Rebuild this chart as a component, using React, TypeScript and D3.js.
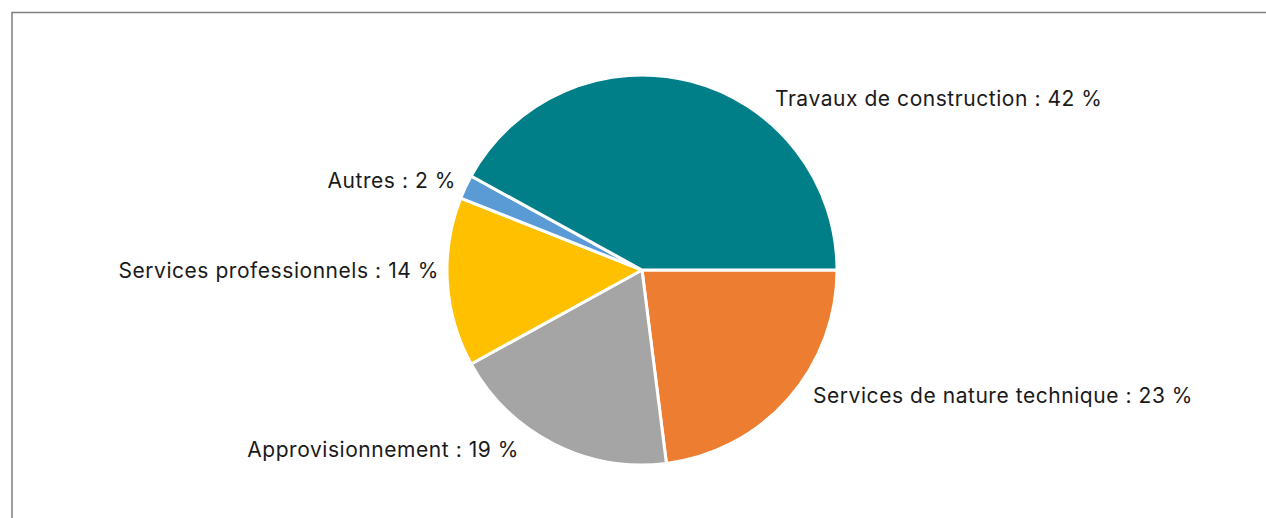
import React from "react";
import * as d3 from "d3";

const categories = [
  "Services de nature technique",
  "Approvisionnement",
  "Services professionnels",
  "Autres",
  "Travaux de construction",
];
const values = [23, 19, 14, 2, 42];
const colors = ["#ED7D31", "#A5A5A5", "#FFC000", "#5B9BD5", "#007F88"];
// label anchor positions (relative to canvas) and text-anchor
const labelPos: [number, number, string][] = [
  [813, 403, "start"],
  [519, 457, "end"],
  [439, 278, "end"],
  [456, 188, "end"],
  [775, 106, "start"],
];

export default function App() {
  const W = 1266, H = 518;
  const cx = 642, cy = 270, r = 195;
  const pie = d3
    .pie<number>()
    .sort(null)
    .startAngle(Math.PI / 2)
    .endAngle(Math.PI / 2 + 2 * Math.PI)(values);
  const arc = d3.arc<d3.PieArcDatum<number>>().innerRadius(0).outerRadius(r);
  return (
    <svg
      width={W}
      height={H}
      style={{ position: "absolute", left: 0, top: 0, background: "#fff" }}
    >
      <rect x={12} y={12.5} width={1300} height={600} fill="#fff" stroke="#7f7f7f" strokeWidth={1.5} />
      <g transform={`translate(${cx},${cy})`}>
        {pie.map((d, i) => (
          <path key={i} d={arc(d) || ""} fill={colors[i]} stroke="#fff" strokeWidth={3} strokeLinejoin="round" />
        ))}
      </g>
      {categories.map((c, i) => (
        <text
          key={c}
          x={labelPos[i][0]}
          y={labelPos[i][1]}
          textAnchor={labelPos[i][2] as any}
          fontFamily="Inter, sans-serif"
          fontSize={21}
          letterSpacing={0.55}
          fill="#1a1a1a"
        >
          {`${c} : ${values[i]} %`}
        </text>
      ))}
    </svg>
  );
}
